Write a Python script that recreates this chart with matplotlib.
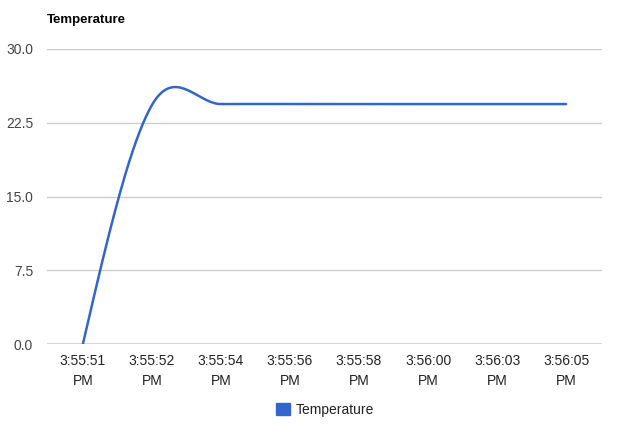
import numpy as np
import matplotlib
matplotlib.use('Agg')
import matplotlib.pyplot as plt
from matplotlib.patches import Patch

plt.rcParams['font.family'] = ['Liberation Sans', 'DejaVu Sans']

times = ['3:55:51\nPM', '3:55:52\nPM', '3:55:54\nPM', '3:55:56\nPM',
         '3:55:58\nPM', '3:56:00\nPM', '3:56:03\nPM', '3:56:05\nPM']
temperature = [0.0, 24.3, 24.4, 24.4, 24.4, 24.4, 24.4, 24.4]
yticks = [0.0, 7.5, 15.0, 22.5, 30.0]

blue = '#3366cc'


def smooth(y, steps=40):
    # cubic hermite curve through the points, like curveType 'function'
    y = np.asarray(y, dtype=float)
    n = len(y)
    m = np.zeros(n)
    m[1:-1] = (y[2:] - y[:-2]) / 2
    m[0] = 1.5 * (y[1] - y[0]) - 0.5 * m[1]
    m[-1] = 1.5 * (y[-1] - y[-2]) - 0.5 * m[-2]
    xs, ys = [], []
    t = np.linspace(0, 1, steps)
    h00 = 2 * t**3 - 3 * t**2 + 1
    h10 = t**3 - 2 * t**2 + t
    h01 = -2 * t**3 + 3 * t**2
    h11 = t**3 - t**2
    for i in range(n - 1):
        xs.append(i + t)
        ys.append(h00 * y[i] + h10 * m[i] + h01 * y[i + 1] + h11 * m[i + 1])
    return np.concatenate(xs), np.concatenate(ys)


fig = plt.figure(figsize=(6.18, 4.24), dpi=100)
ax = fig.add_axes([47 / 618, 1 - 344 / 424, 555 / 618, 295 / 424])

x = np.arange(len(temperature))
sx, sy = smooth(temperature)
ax.plot(sx, sy, color=blue, lw=1.8, solid_capstyle='round', zorder=3)

ax.set_xlim(-0.52, len(times) - 1 + 0.52)
ax.set_ylim(0, 30)
ax.set_yticks(yticks)
ax.set_yticklabels(['%.1f' % v for v in yticks])
ax.set_xticks(x)
ax.set_xticklabels(times, linespacing=1.55)

for v in yticks[1:]:
    ax.axhline(v, color='#cccccc', lw=1, zorder=1)
ax.axhline(0, color='#333333', lw=1, zorder=2)

for s in ax.spines.values():
    s.set_visible(False)
ax.tick_params(axis='both', length=0)
ax.tick_params(axis='y', pad=10, labelsize=10, labelcolor='#444444')
ax.tick_params(axis='x', pad=7, labelsize=10, labelcolor='#222222')

fig.text(47 / 618, 1 - 20 / 424, 'Temperature', fontsize=9.5, fontweight='bold',
         color='#000000', va='center', ha='left')

fig.legend(handles=[Patch(color=blue, label='Temperature')],
           loc='center', bbox_to_anchor=(325 / 618, 1 - 410 / 424),
           frameon=False, fontsize=10, handlelength=1.0, handleheight=1.0,
           handletextpad=0.4, labelcolor='#222222')

fig.savefig('out.png', dpi=100)
